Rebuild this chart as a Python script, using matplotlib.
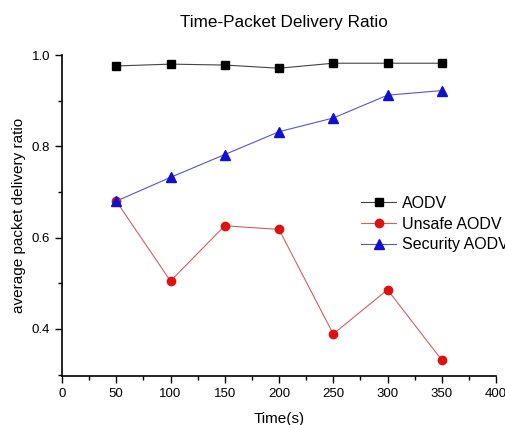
import matplotlib
matplotlib.use("Agg")
import matplotlib.pyplot as plt
from matplotlib.ticker import MultipleLocator

plt.rcParams['font.family'] = ['Liberation Sans', 'DejaVu Sans']

time = [50, 100, 150, 200, 250, 300, 350]
aodv = [0.976, 0.980, 0.978, 0.971, 0.982, 0.982, 0.982]
unsafe = [0.680, 0.505, 0.626, 0.618, 0.389, 0.486, 0.332]
security = [0.680, 0.732, 0.782, 0.832, 0.862, 0.912, 0.922]

fig = plt.figure(figsize=(5.05, 4.25), dpi=100)
ax = fig.add_axes([62/505, 49/425, 434/505, 321/425])

ax.plot(time, aodv, color='#444444', lw=0.8, marker='s', ms=5.5, mfc='black', mec='black', label='AODV')
ax.plot(time, unsafe, color='#d06060', lw=0.8, marker='o', ms=6, mfc='#e01010', mec='#e01010', label='Unsafe AODV')
ax.plot(time, security, color='#5555cc', lw=0.8, marker='^', ms=6.5, mfc='#1010d0', mec='#1010d0', label='Security AODV')

ax.set_xlim(0, 400)
ax.set_ylim(0.297, 1.0)
ax.xaxis.set_major_locator(MultipleLocator(50))
ax.xaxis.set_minor_locator(MultipleLocator(25))
ax.yaxis.set_minor_locator(MultipleLocator(0.1))
ax.set_yticks([0.4, 0.6, 0.8, 1.0])
ax.set_yticklabels(['0.4', '0.6', '0.8', '1.0'])
ax.spines['top'].set_visible(False)
ax.spines['right'].set_visible(False)
ax.spines['left'].set_linewidth(1.2)
ax.spines['bottom'].set_linewidth(1.2)
ax.tick_params(which='major', direction='out', length=5, width=1, labelsize=9.5)
ax.tick_params(which='minor', direction='out', length=3, width=1)

ax.set_xlabel('Time(s)', fontsize=11, labelpad=9)
ax.set_ylabel('average packet delivery ratio', fontsize=11, labelpad=4)
fig.text(284/505, 1 - 22/425, 'Time-Packet Delivery Ratio', ha='center', va='center', fontsize=12.3)

ax.legend(loc='upper left', bbox_to_anchor=(361/505, 1 - 196/425), bbox_transform=fig.transFigure,
          frameon=False, fontsize=11.5, handlelength=2.2, handletextpad=0.35, labelspacing=0.35,
          borderaxespad=0, borderpad=0)

fig.savefig('out.png', dpi=100)
